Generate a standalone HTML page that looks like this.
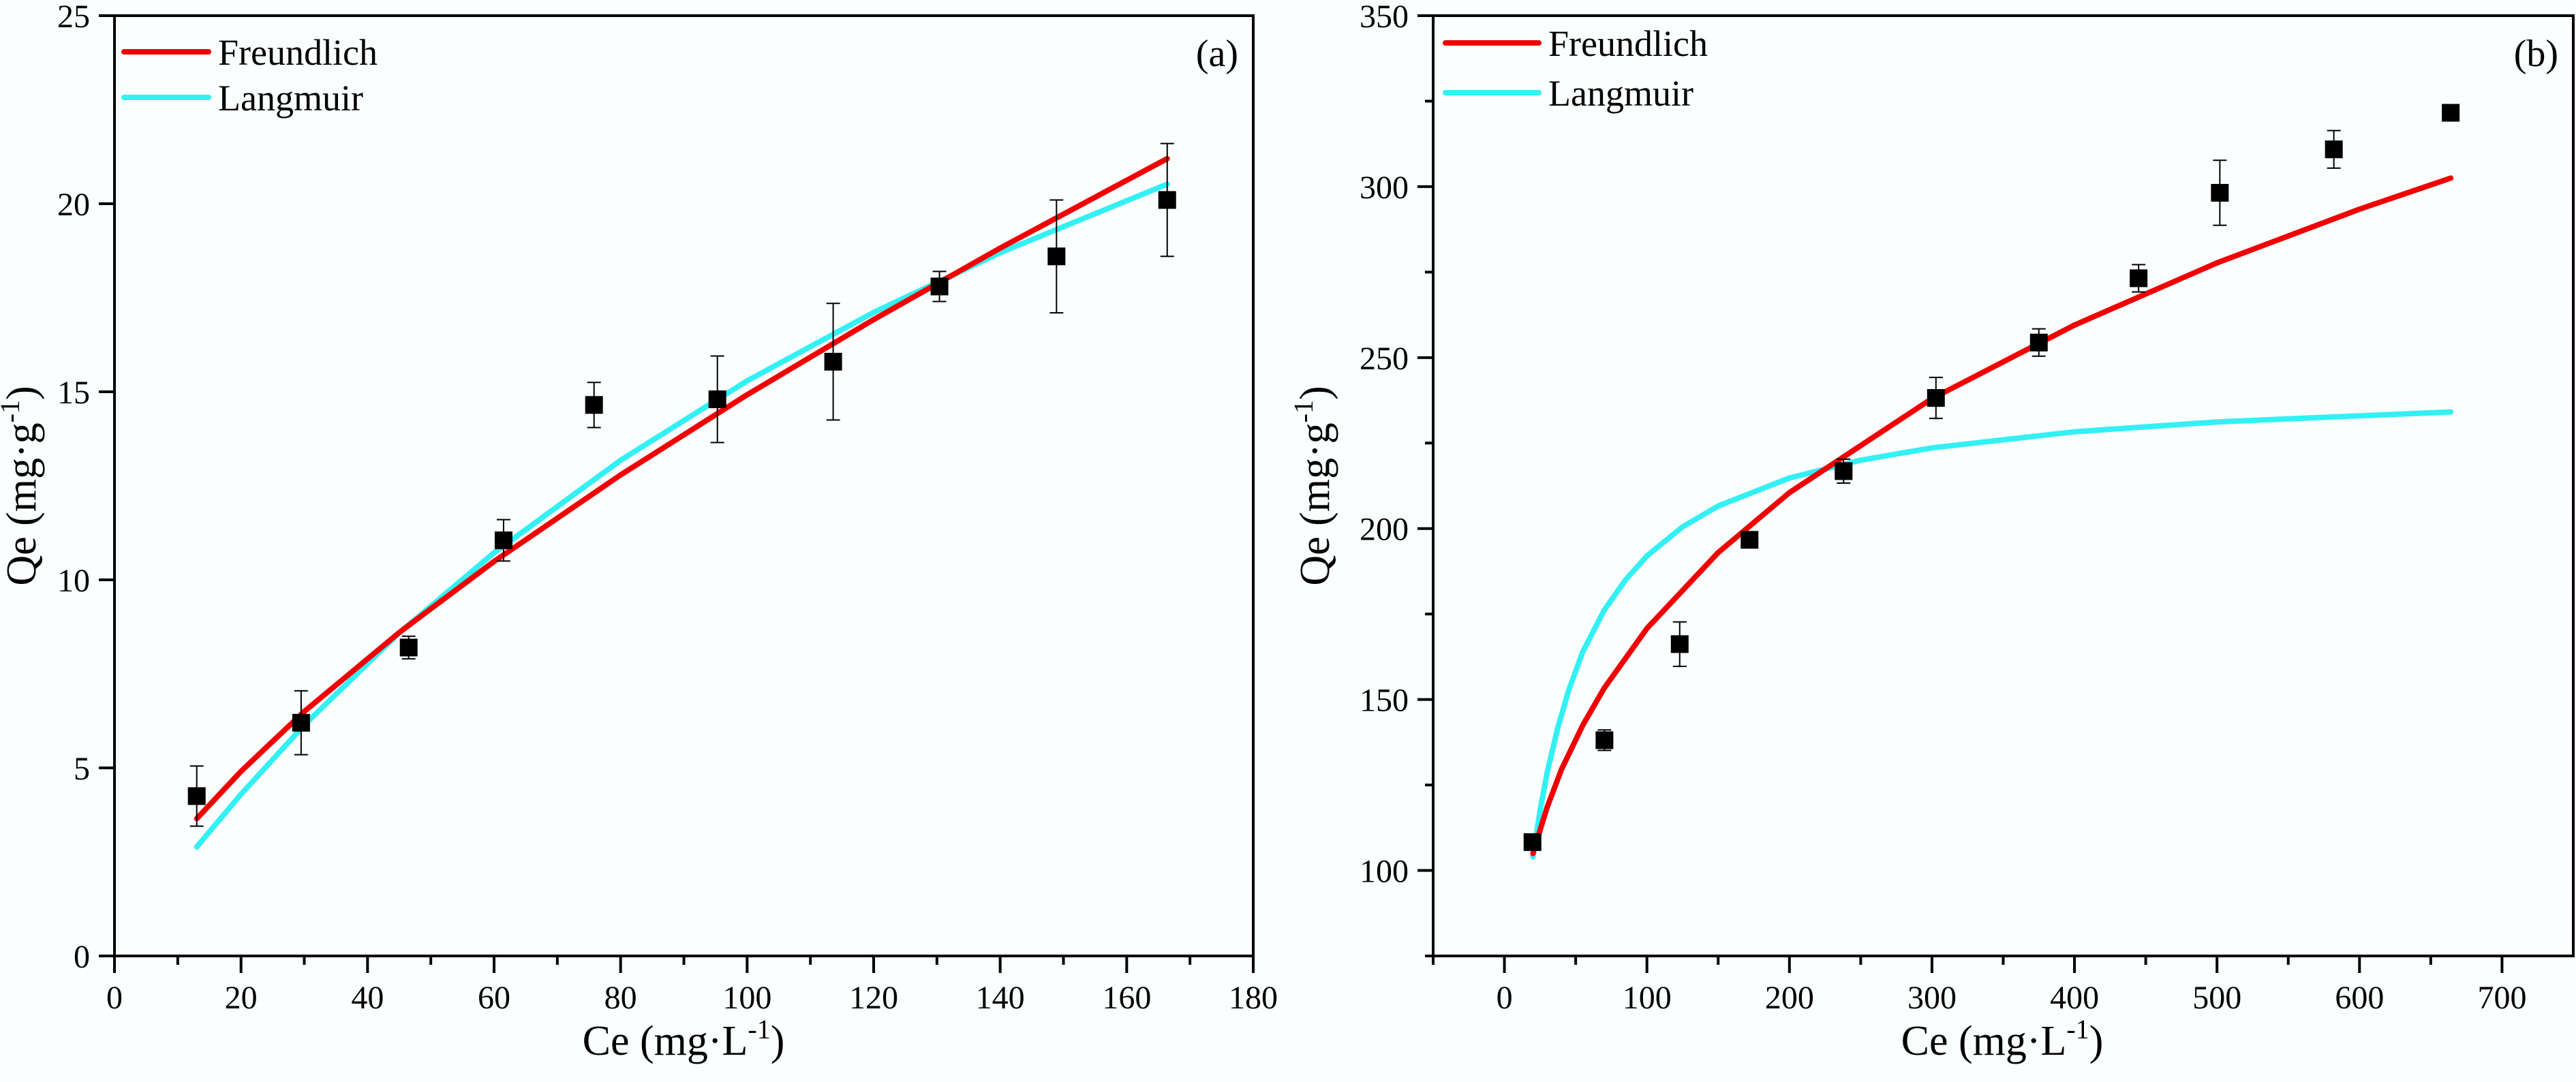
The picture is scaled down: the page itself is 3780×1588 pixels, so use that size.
<!DOCTYPE html>
<html><head><meta charset="utf-8">
<style>
html,body{margin:0;padding:0;background:#fbfefe;}
svg{display:block;font-family:"Liberation Serif",serif;}
</style></head>
<body>
<svg id="fig" width="3780" height="1588" viewBox="0 0 3780 1588" xmlns="http://www.w3.org/2000/svg">
<rect width="3780" height="1588" fill="#fbfefe"/>
</svg>
<script>
// Panel (a) data
const aCe = [13, 29.5, 46.5, 61.5, 75.8, 95.3, 113.6, 130.4, 148.9, 166.4];
const aQe = [4.25, 6.2, 8.2, 11.05, 14.65, 14.8, 15.8, 17.8, 18.6, 20.1];
const aErr = [0.8, 0.85, 0.3, 0.55, 0.6, 1.15, 1.55, 0.4, 1.5, 1.5];
const aFreX = [13, 20, 30, 45, 60, 80, 100, 120, 140, 166.4];
const aFreY = [3.65, 4.91, 6.50, 8.60, 10.49, 12.79, 14.92, 16.92, 18.82, 21.2];
const aLanX = [13, 20, 30, 45, 60, 80, 100, 120, 140, 166.4];
const aLanY = [2.90, 4.30, 6.14, 8.59, 10.72, 13.18, 15.29, 17.11, 18.70, 20.52];
const aXTicks = [0, 20, 40, 60, 80, 100, 120, 140, 160, 180];
const aYTicks = [0, 5, 10, 15, 20, 25];
// Panel (b) data
const bCe = [19.7, 70.2, 123, 172, 238, 302.8, 375, 445, 502, 582, 664];
const bQe = [108.3, 138.1, 166.2, 196.7, 216.8, 238.2, 254.4, 273.2, 298.2, 310.9, 321.6];
const bErr = [1.5, 3, 6.5, 1.5, 3.5, 6, 4, 4, 9.5, 5.5, 2];
const bFreX = [20, 30, 40, 55, 70, 100, 150, 200, 300, 400, 500, 600, 664];
const bFreY = [105.0, 118.5, 129.5, 142.5, 153.3, 170.8, 193.0, 210.5, 238.0, 259.5, 277.7, 293.4, 302.5];
const bLanX = [20, 25, 30, 37, 45, 55, 70, 85, 100, 125, 150, 200, 250, 300, 400, 500, 664];
const bLanY = [104.0, 117.5, 128.6, 141.0, 152.6, 164.0, 176.1, 185.0, 192.0, 200.5, 206.6, 214.8, 220.0, 223.6, 228.3, 231.2, 234.1];
const bXTicks = [0, 100, 200, 300, 400, 500, 600, 700];
const bYTicks = [100, 150, 200, 250, 300, 350];

const NS = "http://www.w3.org/2000/svg";
const svg = document.getElementById('fig');
function mk(tag, attrs, parent, text) {
  const e = document.createElementNS(NS, tag);
  for (const k in attrs) e.setAttribute(k, attrs[k]);
  if (text !== undefined) e.textContent = text;
  (parent || svg).appendChild(e);
  return e;
}

function panel(cfg) {
  const g = mk('g', {});
  
  
  const sx = v => cfg.L + (v - cfg.xmin) / (cfg.xmax - cfg.xmin) * (cfg.R - cfg.L);
  const sy = v => cfg.B - (v - cfg.ymin) / (cfg.ymax - cfg.ymin) * (cfg.B - cfg.T);
  // frame
  const fr = mk('rect', {x: cfg.L, y: cfg.T, width: cfg.R - cfg.L, height: cfg.B - cfg.T, fill: 'none', stroke: '#000', 'stroke-width': 4}, g);
  
  
  // x ticks
  const xg = mk('g', {}, g);
  
  
  for (let i = 0; i < cfg.xt.length; i++) {
    const v = cfg.xt[i], x = sx(v);
    mk('line', {x1: x, y1: cfg.B, x2: x, y2: cfg.B + 25, stroke: '#000', 'stroke-width': 4}, xg);
    const t = mk('text', {x: x, y: cfg.B + 77, 'font-size': 48, 'text-anchor': 'middle'}, xg, String(v));
    
    
    if (i < cfg.xt.length - 1) {
      const m = sx((v + cfg.xt[i + 1]) / 2);
      mk('line', {x1: m, y1: cfg.B, x2: m, y2: cfg.B + 13, stroke: '#000', 'stroke-width': 4}, xg);
    }
  }
  if (cfg.xminorBefore !== undefined) {
    const m = sx(cfg.xminorBefore);
    mk('line', {x1: m, y1: cfg.B, x2: m, y2: cfg.B + 13, stroke: '#000', 'stroke-width': 4}, xg);
  }
  // y ticks
  const yg = mk('g', {}, g);
  
  
  for (let i = 0; i < cfg.yt.length; i++) {
    const v = cfg.yt[i], y = sy(v);
    mk('line', {x1: cfg.L, y1: y, x2: cfg.L - 23, y2: y, stroke: '#000', 'stroke-width': 4}, yg);
    const t = mk('text', {x: cfg.L - 36, y: y + 17, 'font-size': 48, 'text-anchor': 'end'}, yg, String(v));
    
    
    if (cfg.yminor && i < cfg.yt.length - 1) {
      const m = sy((v + cfg.yt[i + 1]) / 2);
      mk('line', {x1: cfg.L, y1: m, x2: cfg.L - 12, y2: m, stroke: '#000', 'stroke-width': 4}, yg);
    }
  }
  if (cfg.yminor) {
    const m = sy(cfg.yt[0] - (cfg.yt[1] - cfg.yt[0]) / 2);
    if (m <= cfg.B) mk('line', {x1: cfg.L, y1: m, x2: cfg.L - 12, y2: m, stroke: '#000', 'stroke-width': 4}, yg);
  }
  // axis titles
  const xt = mk('text', {x: cfg.xtx, y: 1548, 'font-size': 62, 'text-anchor': 'middle'}, g);
  
  
  xt.innerHTML = 'Ce (mg·L<tspan dy="-24" font-size="40">-1</tspan><tspan dy="24">)</tspan>';
  const yt = mk('text', {x: 0, y: 0, 'font-size': 62, 'text-anchor': 'middle', transform: `translate(${cfg.ytx},${(cfg.T + cfg.B) / 2}) rotate(-90)`}, g);
  
  
  yt.innerHTML = 'Qe (mg·g<tspan dy="-24" font-size="40">-1</tspan><tspan dy="24">)</tspan>';
  // curves
  const path = (xs, ys) => xs.map((x, i) => (i ? 'L' : 'M') + sx(x).toFixed(1) + ',' + sy(ys[i]).toFixed(1)).join(' ');
  const lan = mk('path', {d: path(cfg.lanX, cfg.lanY), fill: 'none', stroke: '#33f0f4', 'stroke-width': 8, 'stroke-linejoin': 'round', 'stroke-linecap': 'round'}, g);
  
  
  const fre = mk('path', {d: path(cfg.freX, cfg.freY), fill: 'none', stroke: '#f00000', 'stroke-width': 8, 'stroke-linejoin': 'round', 'stroke-linecap': 'round'}, g);
  
  
  // points with error bars
  for (let i = 0; i < cfg.px.length; i++) {
    const x = sx(cfg.px[i]), y = sy(cfg.py[i]);
    const y1 = sy(cfg.py[i] + cfg.pe[i]), y2 = sy(cfg.py[i] - cfg.pe[i]);
    const eb = mk('g', {}, g);
    
    
    mk('line', {x1: x, y1: y1, x2: x, y2: y2, stroke: '#000', 'stroke-width': 2}, eb);
    mk('line', {x1: x - 10, y1: y1, x2: x + 10, y2: y1, stroke: '#000', 'stroke-width': 2}, eb);
    mk('line', {x1: x - 10, y1: y2, x2: x + 10, y2: y2, stroke: '#000', 'stroke-width': 2}, eb);
    const r = mk('rect', {x: x - 13, y: y - 13, width: 26, height: 26, fill: '#000'}, g);
    
    
  }
  // legend
  const lg = mk('g', {}, g);
  
  
  const e1 = mk('g', {}, lg);
  
  
  mk('line', {x1: cfg.lx1, y1: cfg.ly1, x2: cfg.lx2, y2: cfg.ly1, stroke: '#f00000', 'stroke-width': 8, 'stroke-linecap': 'round'}, e1);
  mk('text', {x: cfg.lx2 + 14, y: cfg.ly1 + 19, 'font-size': 54}, e1, 'Freundlich');
  const e2 = mk('g', {}, lg);
  
  
  mk('line', {x1: cfg.lx1, y1: cfg.ly2, x2: cfg.lx2, y2: cfg.ly2, stroke: '#33f0f4', 'stroke-width': 8, 'stroke-linecap': 'round'}, e2);
  mk('text', {x: cfg.lx2 + 14, y: cfg.ly2 + 19, 'font-size': 54}, e2, 'Langmuir');
  const pl = mk('text', {x: cfg.R - 22, y: 97, 'font-size': 56, 'text-anchor': 'end'}, g, cfg.label);
  
  
}

panel({name: 'panel-a', L: 168, R: 1839, T: 23, B: 1403, xmin: 0, xmax: 180, ymin: 0, ymax: 25,
  xt: aXTicks, yt: aYTicks, yminor: false, xtx: 1003, ytx: 52,
  px: aCe, py: aQe, pe: aErr, freX: aFreX, freY: aFreY, lanX: aLanX, lanY: aLanY,
  lx1: 182, lx2: 306, ly1: 76, ly2: 143, label: '(a)'});
panel({name: 'panel-b', L: 2103, R: 3776, T: 23, B: 1403, xmin: -50, xmax: 750, ymin: 75, ymax: 350,
  xt: bXTicks, yt: bYTicks, yminor: true, xminorBefore: -50, xtx: 2938, ytx: 1950,
  px: bCe, py: bQe, pe: bErr, freX: bFreX, freY: bFreY, lanX: bLanX, lanY: bLanY,
  lx1: 2121, lx2: 2258, ly1: 63, ly2: 136, label: '(b)'});
</script>
</body></html>
